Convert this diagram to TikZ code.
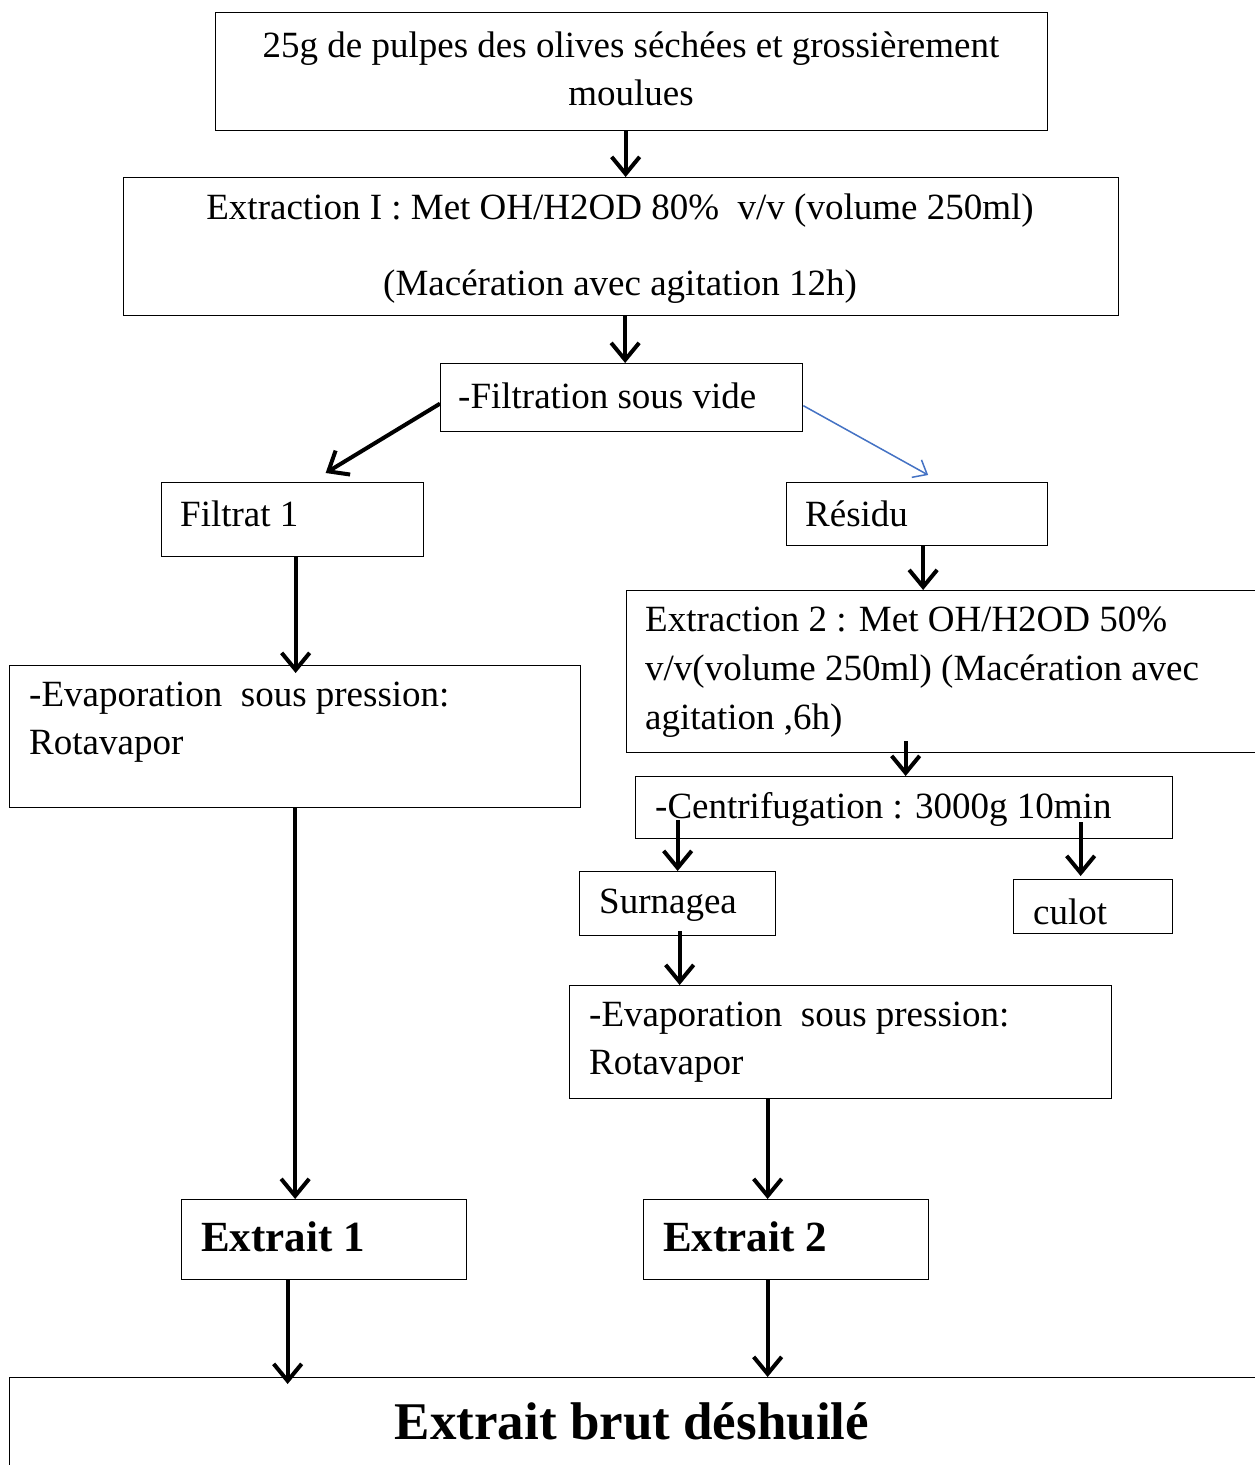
\documentclass[tikz,border=0pt]{standalone}
\usepackage{fontspec}
\setmainfont{Liberation Serif}
\usetikzlibrary{arrows.meta,calc}
\definecolor{arrowblue}{RGB}{68,114,196}
\begin{document}
\begin{tikzpicture}[x=1pt,y=-1pt,
  box/.style={draw=black,line width=1.3pt,inner sep=0pt,anchor=north west},
  txt/.style={inner sep=0pt,font=\fontsize{37}{48}\selectfont},
  btxt/.style={inner sep=0pt,font=\fontsize{43}{48}\selectfont\bfseries},
  arr/.style={line width=4pt,-{Straight Barb[length=17pt,width=28pt,line width=4pt]}},
  barr/.style={draw=arrowblue,line width=1.5pt,-{Straight Barb[length=12pt,width=20pt,line width=1.5pt]}}]
\useasboundingbox (0,0) rectangle (1254,1465);
\fill[white] (0,0) rectangle (1254,1465);
% boxes
\node[box,minimum width=832pt,minimum height=118pt] (A) at (215,12) {};
\node[box,minimum width=995pt,minimum height=138pt] (B) at (123,177) {};
\node[box,minimum width=362pt,minimum height=68pt] (C) at (440,363) {};
\node[box,minimum width=262pt,minimum height=74pt] (F1) at (161,482) {};
\node[box,minimum width=261pt,minimum height=63pt] (R) at (786,482) {};
\node[box,minimum width=650pt,minimum height=162pt] (X2b) at (626,590) {};
\node[box,minimum width=571pt,minimum height=142pt] (E1) at (9,665) {};
\node[box,minimum width=537pt,minimum height=62pt] (Cen) at (635,776) {};
\node[box,minimum width=196pt,minimum height=64pt] (S) at (579,871) {};
\node[box,minimum width=159pt,minimum height=54pt] (Cu) at (1013,879) {};
\node[box,minimum width=542pt,minimum height=113pt] (E2) at (569,985) {};
\node[box,minimum width=285pt,minimum height=80pt] (X1) at (181,1199) {};
\node[box,minimum width=285pt,minimum height=80pt] (X2) at (643,1199) {};
\node[box,minimum width=1270pt,minimum height=110pt] (Bot) at (9,1377) {};
% texts
\node[txt,align=center] (tA) at (631,69) {25g de pulpes des olives séchées et grossièrement\\moulues};
\node[txt,align=center,font=\fontsize{37}{76}\selectfont] (tB) at (620,249) {Extraction I : Met OH/H2OD 80\%~ v/v (volume 250ml)\\(Macération avec agitation 12h)};
\node[txt,anchor=west] (tC) at (458,396) {-Filtration sous vide};
\node[txt,anchor=west] (tF1) at (180,514) {Filtrat 1};
\node[txt,anchor=west] (tR) at (805,514) {Résidu};
\node[txt,anchor=west,align=left,font=\fontsize{37}{49}\selectfont] (tX2b) at (645,672) {Extraction 2 : Met OH/H2OD 50\%\\v/v(volume 250ml) (Macération avec\\agitation ,6h)};
\node[txt,anchor=west,align=left] (tE1) at (29,722) {-Evaporation~ sous pression:\\Rotavapor};
\node[txt,anchor=west] (tCen) at (655,809) {-Centrifugation : 3000g 10min};
\node[txt,anchor=west] (tS) at (599,905) {Surnagea};
\node[txt,anchor=west] (tCu) at (1033,912) {culot};
\node[txt,anchor=west,align=left] (tE2) at (589,1042) {-Evaporation~ sous pression:\\Rotavapor};
\node[btxt,anchor=west] (tX1) at (201,1237) {Extrait 1};
\node[btxt,anchor=west] (tX2) at (663,1237) {Extrait 2};
\node[inner sep=0pt,font=\fontsize{53}{60}\selectfont\bfseries] (tBot) at (632,1421) {Extrait brut déshuilé};
% arrows
\draw[arr] ($(A.south)+(-6,0)$) -- ($(A.south |- B.north)+(-6,0)$);
\draw[arr] ($(B.south)+(4,0)$) -- ($(B.south |- C.north)+(4,0)$);
\draw[arr] ($(C.west)+(0,6)$) -- ($(F1.north)+(33,-9)$);
\draw[barr] ($(C.east)+(0,8)$) -- ($(R.north)+(11,-7)$);
\draw[arr] ($(R.south)+(6,0)$) -- ($(R.south |- X2b.north)+(6,0)$);
\draw[arr] ($(F1.south)+(3,0)$) -- ($(F1.south |- E1.north)+(3,8)$);
\draw[arr] (E1.south) -- (E1.south |- X1.north);
\draw[arr] ($(Cen.north |- X2b.south)+(1.5,-12)$) -- ($(Cen.north)+(1.5,0)$);
\draw[arr] ($(S.north)+(0,-51)$) -- (S.north);
\draw[arr] ($(Cu.north)+(-12.5,-57)$) -- ($(Cu.north)+(-12.5,-3)$);
\draw[arr] ($(S.south)+(2,-5)$) -- ($(S.south |- E2.north)+(2,0)$);
\draw[arr] ($(E2.south)+(-73,0)$) -- ($(E2.south |- X2.north)+(-73,0)$);
\draw[arr] ($(X1.south)+(-36.5,0)$) -- ($(X1.south |- Bot.north)+(-36.5,7)$);
\draw[arr] ($(X2.south)+(-18.5,0)$) -- ($(X2.south |- Bot.north)+(-18.5,0)$);
\end{tikzpicture}
\end{document}
